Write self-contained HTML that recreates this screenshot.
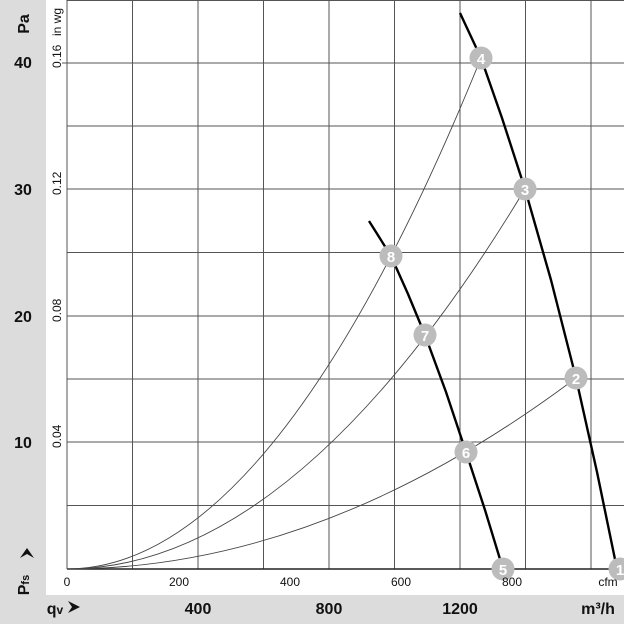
<!DOCTYPE html>
<html><head><style>
html,body{margin:0;padding:0;background:#fff}
svg{display:block}
text{font-family:"Liberation Sans",Arial,sans-serif}
</style></head><body>
<svg width="624" height="624" viewBox="0 0 624 624" xmlns="http://www.w3.org/2000/svg">
<rect x="0" y="0" width="624" height="624" fill="#fff"/>
<rect x="0" y="0" width="46" height="624" fill="#dcdcdc"/>
<rect x="0" y="595" width="624" height="29" fill="#dcdcdc"/>
<g stroke="#555" stroke-width="1">
<line x1="67" y1="0" x2="67" y2="569"/>
<line x1="132.5" y1="0" x2="132.5" y2="569"/>
<line x1="198" y1="0" x2="198" y2="569"/>
<line x1="263.5" y1="0" x2="263.5" y2="569"/>
<line x1="329" y1="0" x2="329" y2="569"/>
<line x1="394.5" y1="0" x2="394.5" y2="569"/>
<line x1="460" y1="0" x2="460" y2="569"/>
<line x1="525.5" y1="0" x2="525.5" y2="569"/>
<line x1="591" y1="0" x2="591" y2="569"/>
<line x1="67" y1="0.5" x2="624" y2="0.5"/>
<line x1="67" y1="63" x2="624" y2="63"/>
<line x1="67" y1="126" x2="624" y2="126"/>
<line x1="67" y1="189" x2="624" y2="189"/>
<line x1="67" y1="252.5" x2="624" y2="252.5"/>
<line x1="67" y1="316" x2="624" y2="316"/>
<line x1="67" y1="379" x2="624" y2="379"/>
<line x1="67" y1="442" x2="624" y2="442"/>
<line x1="67" y1="505.5" x2="624" y2="505.5"/>
<line x1="62" y1="63" x2="67" y2="63"/>
</g>
<line x1="67" y1="569" x2="624" y2="569" stroke="#222" stroke-width="1.5"/>
<g fill="none" stroke="#444" stroke-width="0.9">
<path d="M67 569 Q274 569 481 58"/>
<path d="M67 569 Q296 569 525 189"/>
<path d="M67 569 Q321.5 569 576 378"/>
</g>
<g fill="none" stroke="#000" stroke-width="2.4" stroke-linejoin="round">
<path d="M460 13 L481 58 L502 118 L525 189 L551 280 L576 378 L597 472 L617 569"/>
<path d="M369 221 L391 256 L408 294 L425 335 L446 392 L466 452 L485 510 L503 569"/>
</g>
<g fill="#bcbcbc">
<circle cx="481" cy="58" r="11.5"/><circle cx="525" cy="189" r="11.5"/>
<circle cx="576" cy="378" r="11.5"/><circle cx="620" cy="569" r="11.5"/>
<circle cx="391" cy="256" r="11.5"/><circle cx="425" cy="335" r="11.5"/>
<circle cx="466" cy="452" r="11.5"/><circle cx="503" cy="569" r="11.5"/>
</g>
<g fill="#fff" font-weight="bold" font-size="15" text-anchor="middle">
<text x="481" y="64">4</text><text x="525" y="195">3</text>
<text x="576" y="384">2</text><text x="620" y="575">1</text>
<text x="391" y="262">8</text><text x="425" y="341">7</text>
<text x="466" y="458">6</text><text x="503" y="575">5</text>
</g>
<g font-size="12" fill="#111" text-anchor="middle">
<text x="67" y="586">0</text><text x="179" y="586">200</text>
<text x="290" y="586">400</text><text x="401" y="586">600</text>
<text x="512" y="586">800</text><text x="608" y="586">cfm</text>
</g>
<g font-size="12" fill="#111">
<text transform="translate(61,68) rotate(-90)">0.16</text>
<text transform="translate(61,195) rotate(-90)">0.12</text>
<text transform="translate(61,322) rotate(-90)">0.08</text>
<text transform="translate(61,448) rotate(-90)">0.04</text>
<text transform="translate(61,36) rotate(-90)">in wg</text>
</g>
<g font-size="16" font-weight="bold" fill="#111" text-anchor="middle">
<text x="23" y="68">40</text><text x="23" y="195">30</text>
<text x="23" y="322">20</text><text x="23" y="448">10</text>
<text x="198" y="614">400</text><text x="329" y="614">800</text>
<text x="460" y="614">1200</text><text x="598" y="614">m³/h</text>
<text transform="translate(29,24) rotate(-90)">Pa</text>
<text transform="translate(29,585) rotate(-90)">P<tspan font-size="11" dy="0">fs</tspan></text>
<text x="55" y="614">q<tspan font-size="12">v</tspan></text>
</g>
<path d="M20 558 L27 548 L34 558 L27 554 Z" fill="#111"/>
<path d="M68 601 L80 607 L68 613 L72 607 Z" fill="#111"/>
</svg>
</body></html>
